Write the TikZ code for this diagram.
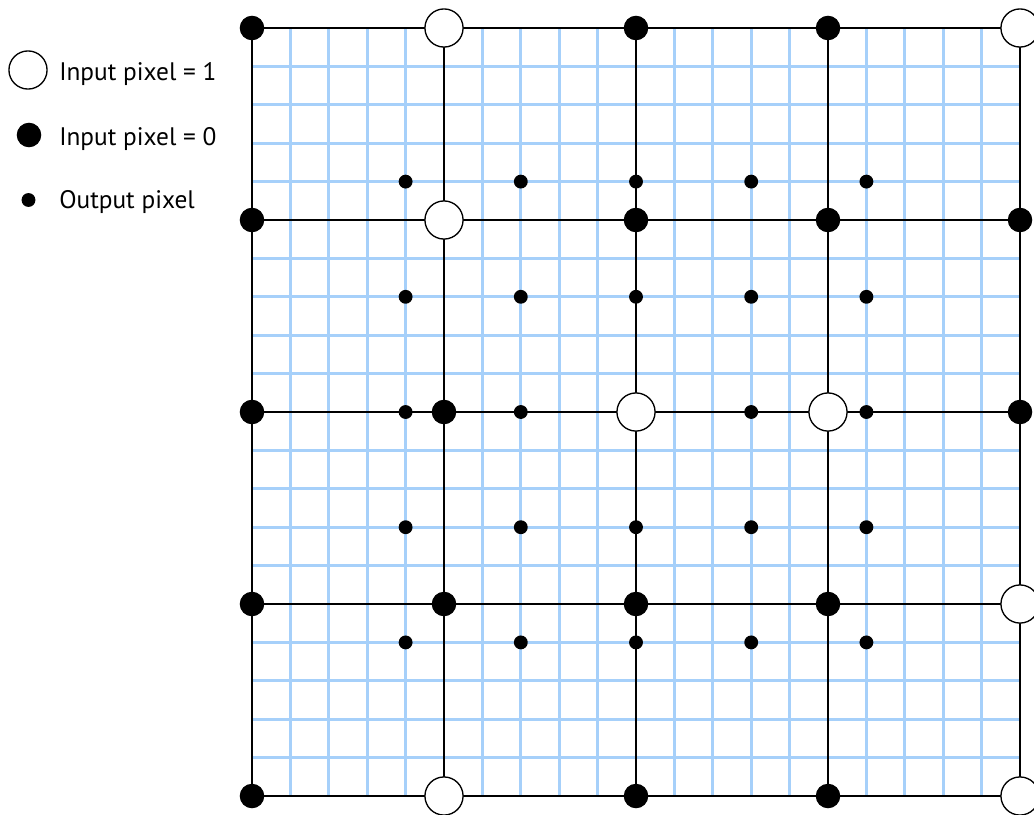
\documentclass[tikz,border=0pt]{standalone}
\usepackage{fontspec}
\setmainfont{PT Sans}
\definecolor{gridblue}{RGB}{166,208,250}
\tikzset{
  inone/.style={circle, draw=black, fill=white, line width=1pt, minimum size=28.6pt, inner sep=0pt},
  inzero/.style={circle, fill=black, minimum size=18.4pt, inner sep=0pt},
  outpx/.style={circle, fill=black, minimum size=10.4pt, inner sep=0pt},
  legendtext/.style={anchor=base west, font=\fontsize{19}{22}\selectfont, inner sep=0pt},
  major/.style={line width=1.5pt, black},
  border/.style={line width=1pt, black},
  minor/.style={line width=2.1pt, gridblue},
}
\begin{document}
\begin{tikzpicture}[x=0.75pt,y=-0.75pt]
\useasboundingbox (0,0) rectangle (1034,814);
\clip (0,0) rectangle (1034,814);
% fine blue grid
\foreach \k in {1,...,19} {
  \draw[minor] (252+38.4*\k,28) -- (252+38.4*\k,796);
  \draw[minor] (252,28+38.4*\k) -- (1020,28+38.4*\k);
}
% input pixel positions
\foreach \r in {0,...,4} {
  \foreach \c in {0,...,4} {
    \coordinate (p\r\c) at (252+192*\c, 28+192*\r);
  }
}
% black grid lines
\foreach \r in {1,2,3} {
  \draw[major] (p\r0) -- (p\r4);
  \draw[major] (p0\r) -- (p4\r);
}
\draw[border] (p00) -- (p04) -- (p44) -- (p40) -- cycle;
% output pixels
\foreach \i in {0,...,4} {
  \foreach \j in {0,...,4} {
    \node[outpx] (out\i\j) at (252+38.4*4+115.2*\j, 28+38.4*4+115.2*\i) {};
  }
}
% input pixels = 0
\foreach \r/\c in {0/0,0/2,0/3,1/0,1/2,1/3,1/4,2/0,2/1,2/4,3/0,3/1,3/2,3/3,4/0,4/2,4/3} {
  \node[inzero] (in\r\c) at (p\r\c) {};
}
% input pixels = 1
\foreach \r/\c in {0/1,0/4,1/1,2/2,2/3,3/4,4/1,4/4} {
  \node[inone] (in\r\c) at (p\r\c) {};
}
% legend
\node[inone] (legone) at (28,70) {};
\node[inzero] (legzero) at (29,135) {};
\node[outpx] (legout) at (28.5,200) {};
\node[legendtext] (tone) at (59,80) {Input pixel = 1};
\node[legendtext] (tzero) at (59,145) {Input pixel = 0};
\node[legendtext] (tout) at (59,208) {Output pixel};
\end{tikzpicture}
\end{document}
